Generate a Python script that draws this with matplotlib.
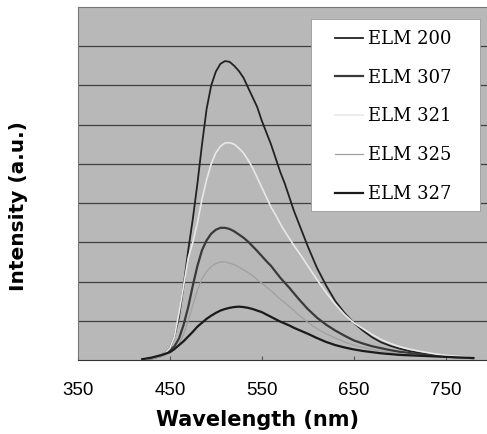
import matplotlib.pyplot as plt
from matplotlib.patches import Rectangle
import numpy as np

# wavelength grid (nm) and intensities
wavelength = [420, 430,
              440, 445, 450, 455, 460, 465, 470, 475, 480, 485,
              490, 495, 500, 505, 510, 515, 520, 525, 530, 535,
              540, 545, 550, 555, 560, 565, 570, 575, 580, 585,
              590, 595, 600,
              610, 620, 630, 640, 650, 660, 670, 680, 690, 700,
              710, 720, 730, 740, 750, 760, 770, 780]

elm200 = [0.01, 0.05,
          0.12, 0.18, 0.3, 0.6, 1.1, 1.9, 2.8, 3.6, 4.5, 5.5,
          6.4, 7.0, 7.35, 7.55, 7.62, 7.6, 7.5, 7.37, 7.2, 6.95,
          6.7, 6.45, 6.1, 5.8, 5.5, 5.15, 4.8, 4.5, 4.15, 3.8,
          3.5, 3.2, 2.9,
          2.35, 1.9, 1.5, 1.2, 0.95, 0.75, 0.58, 0.45, 0.36, 0.29,
          0.23, 0.19, 0.15, 0.12, 0.1, 0.08, 0.06, 0.05]

elm307 = [0.01, 0.04,
          0.1, 0.15, 0.25, 0.35, 0.55, 0.9, 1.35, 1.9, 2.4, 2.8,
          3.05, 3.22, 3.32, 3.37, 3.37, 3.34, 3.28, 3.2, 3.12, 3.02,
          2.9, 2.78, 2.65, 2.52, 2.4, 2.25, 2.1, 1.97, 1.84, 1.7,
          1.56, 1.43, 1.3,
          1.08, 0.9, 0.75, 0.62, 0.5, 0.42, 0.35, 0.3, 0.25, 0.21,
          0.18, 0.15, 0.13, 0.11, 0.09, 0.07, 0.06, 0.05]

elm321 = [0.01, 0.05,
          0.12, 0.18, 0.3, 0.6, 1.2, 1.9, 2.6, 3.0, 3.5, 4.1,
          4.6, 5.0, 5.28, 5.45, 5.53, 5.54, 5.5, 5.4, 5.28, 5.1,
          4.9, 4.65, 4.4, 4.15, 3.9, 3.7, 3.48, 3.28, 3.1, 2.92,
          2.75, 2.58, 2.4,
          2.05, 1.72, 1.42, 1.16, 0.95, 0.8, 0.65, 0.52, 0.42, 0.34,
          0.28, 0.23, 0.19, 0.15, 0.12, 0.1, 0.08, 0.06]

elm325 = [0.01, 0.03,
          0.08, 0.12, 0.18, 0.26, 0.4, 0.66, 1.0, 1.4, 1.78, 2.07,
          2.26, 2.38, 2.46, 2.5, 2.5, 2.47, 2.43, 2.37, 2.3, 2.23,
          2.15, 2.05, 1.96, 1.86, 1.77, 1.66, 1.55, 1.46, 1.36, 1.26,
          1.15, 1.06, 0.96,
          0.8, 0.67, 0.56, 0.46, 0.38, 0.32, 0.27, 0.23, 0.19, 0.16,
          0.14, 0.12, 0.1, 0.08, 0.07, 0.06, 0.05, 0.04]

elm327 = [0.02, 0.06,
          0.12, 0.16, 0.2, 0.28, 0.38, 0.48, 0.6, 0.72, 0.85, 0.95,
          1.05, 1.13, 1.2, 1.26, 1.3, 1.33, 1.35, 1.36, 1.35, 1.33,
          1.3, 1.26, 1.22, 1.16, 1.1, 1.04, 0.98, 0.93, 0.88, 0.82,
          0.77, 0.72, 0.67,
          0.56, 0.46, 0.38, 0.32, 0.27, 0.23, 0.2, 0.17, 0.15, 0.13,
          0.12, 0.11, 0.1, 0.09, 0.08, 0.07, 0.06, 0.05]

labels = ["ELM 200", "ELM 307", "ELM 321", "ELM 325", "ELM 327"]
xticks = [350, 450, 550, 650, 750]

fig = plt.figure(figsize=(4.87, 4.34), dpi=100)
ax = fig.add_axes([0.160, 0.1705, 0.84, 0.8135])
ax.set_facecolor("#b8b8b8")

series = [elm200, elm307, elm321, elm325, elm327]
colors = ["#222222", "#3a3a3a", "#e8e8e8", "#a0a0a0", "#1a1a1a"]
widths = [1.3, 1.6, 1.2, 0.9, 1.6]
for s, c, w, lab in zip(series, colors, widths, labels):
	ax.plot(wavelength, s, color=c, lw=w, label=lab)

ax.set_xlim(350, 795)
ax.set_ylim(0, 9)
ax.set_yticks(np.arange(1, 9))
ax.set_yticklabels([])
ax.tick_params(axis="y", length=0)
ax.yaxis.grid(True, color="#404040", lw=0.9)
ax.set_axisbelow(True)

ax.set_xticks(xticks)
ax.set_xticklabels([str(t) for t in xticks], fontsize=13.5, family="Liberation Sans")
ax.tick_params(axis="x", direction="in", length=3, color="#555555", pad=16)

for side in ["top", "left"]:
	ax.spines[side].set_color("#777777")
	ax.spines[side].set_linewidth(0.8)
ax.spines["bottom"].set_color("#333333")
ax.spines["right"].set_visible(False)

ax.set_xlabel("Wavelength (nm)", fontsize=15, fontweight="bold")
ax.xaxis.set_label_coords(0.439, -0.142)
ax.set_ylabel("Intensity (a.u.)", fontsize=14.5, fontweight="bold")
ax.yaxis.set_label_coords(-0.122, 0.436)

### white legend box, then the frameless legend inside it
box = Rectangle((0.570, 0.422), 0.413, 0.544, transform=ax.transAxes,
	facecolor="white", edgecolor="#999999", lw=0.6, zorder=4)
ax.add_patch(box)
leg = ax.legend(loc="upper left", bbox_to_anchor=(0.628, 0.935), frameon=False,
	prop={"family": "DejaVu Serif", "size": 13},
	handlelength=1.55, handletextpad=0.3, labelspacing=1.15,
	borderpad=0, borderaxespad=0)
leg.set_zorder(5)

fig.savefig("out.png", dpi=100)
